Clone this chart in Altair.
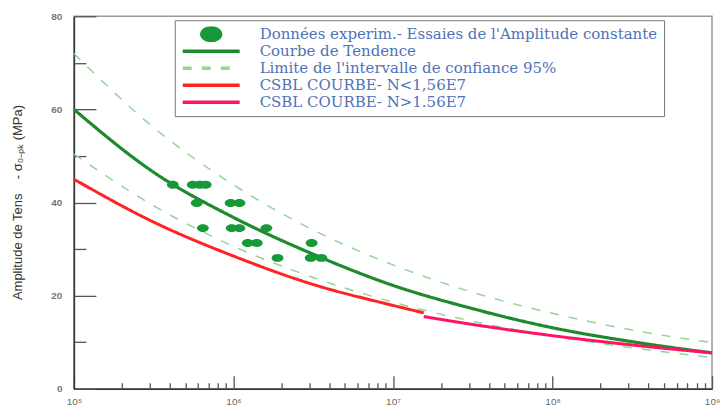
import altair as alt
import pandas as pd

# ---------------- data ----------------
SERIES = [
    "Données experim.- Essaies de l'Amplitude constante",
    "Courbe de Tendence",
    "Limite de l'intervalle de confiance 95%",
    "CSBL COURBE- N<1,56E7",
    "CSBL COURBE- N>1.56E7",
]

N_GRID = [1e5, 3.16e5, 1e6, 3.16e6, 1e7, 3.16e7, 1e8, 3.16e8, 1e9]
TREND_S = [60.0, 46.5, 36.8, 28.9, 22.2, 17.2, 13.1, 10.1, 7.7]
UPPER_S = [72.0, 56.1, 43.8, 34.1, 26.6, 20.7, 16.2, 12.6, 9.9]
LOWER_S = [50.4, 39.3, 30.6, 23.9, 18.6, 14.5, 11.3, 8.8, 6.7]

RED_N = [1e5, 3.16e5, 1e6, 3.16e6, 1e7, 1.56e7]
RED_S = [45.0, 35.8, 28.5, 22.4, 17.9, 16.3]

PINK_N = [1.56e7, 3.16e7, 1e8, 3.16e8, 1e9]
PINK_S = [15.5, 13.8, 11.4, 9.4, 7.7]

PTS_N = [4.17e5, 5.56e5, 6.15e5, 6.7e5, 5.89e5, 9.6e5, 1.09e6, 6.43e5, 9.75e5,
         1.09e6, 1.61e6, 1.23e6, 1.40e6, 3.09e6, 1.89e6, 3.05e6, 3.56e6]
PTS_S = [43.8, 43.8, 43.8, 43.8, 39.9, 39.9, 39.9, 34.5, 34.5,
         34.5, 34.5, 31.3, 31.3, 31.3, 28.1, 28.1, 28.1]

X_MAJOR = [1e5, 1e6, 1e7, 1e8, 1e9]
X_MINOR = [m * 10 ** e for e in range(5, 9) for m in range(2, 10)]
Y_MAJOR = [0, 20, 40, 60, 80]
Y_MINOR = [10, 30, 50, 70]

# ---------------- styles ----------------
COLORS = ["#17993a", "#1e8a2e", "#96d496", "#ff2323", "#ff1464"]
DOT = "M-0.33,0A0.33,0.22,0,1,0,0.33,0A0.33,0.22,0,1,0,-0.33,0Z"
SHAPES = [DOT, "stroke", "stroke", "stroke", "stroke"]
DASHES = [[1, 0], [1, 0], [9, 10], [1, 0], [1, 0]]
TICK_COLOR = "#555555"

# ---------------- tables ----------------
rows = []
for n, s in zip(N_GRID, TREND_S):
    rows.append({"N": n, "S": s, "serie": SERIES[1], "part": "t", "sw": 3.2})
for n, s in zip(N_GRID, UPPER_S):
    rows.append({"N": n, "S": s, "serie": SERIES[2], "part": "u", "sw": 1.5})
for n, s in zip(N_GRID, LOWER_S):
    rows.append({"N": n, "S": s, "serie": SERIES[2], "part": "l", "sw": 1.5})
for n, s in zip(RED_N, RED_S):
    rows.append({"N": n, "S": s, "serie": SERIES[3], "part": "r", "sw": 3.0})
for n, s in zip(PINK_N, PINK_S):
    rows.append({"N": n, "S": s, "serie": SERIES[4], "part": "k", "sw": 3.0})
lines_df = pd.DataFrame(rows)

pts_df = pd.DataFrame({"N": PTS_N, "S": PTS_S, "serie": SERIES[0]})

# ---------------- scales / axes / legend ----------------
x_scale = alt.Scale(type="log", domain=[1e5, 1e9], nice=False)
y_scale = alt.Scale(domain=[0, 80], nice=False)
color_scale = alt.Scale(domain=SERIES, range=COLORS)
shape_scale = alt.Scale(domain=SERIES, range=SHAPES)
dash_scale = alt.Scale(domain=SERIES, range=DASHES)

x_axis = alt.Axis(
    orient="bottom",
    values=X_MAJOR,
    labelExpr="'10' + ['⁰','¹','²','³','⁴','⁵','⁶','⁷','⁸','⁹'][round(log(datum.value)/LN10)]",
    title=None,
    ticks=False,
    tickSize=0,
    grid=False,
    domainColor="#333333",
    domainWidth=1.5,
    labelFont="Liberation Sans",
    labelFontSize=10,
    labelColor="#666666",
    labelPadding=8,
    labelFlush=False,
    labelOverlap=False,
)

y_axis = alt.Axis(
    orient="left",
    values=Y_MAJOR,
    title="Amplitude de Tens\u00a0\u00a0\u00a0\u00a0- σ₀₋ₚₖ (MPa)",
    titleFont="Liberation Sans Narrow, Liberation Sans",
    titleFontSize=13,
    titleFontWeight="normal",
    titleColor="#333333",
    titleX=-49,
    titleY=186,
    titleBaseline="bottom",
    ticks=False,
    tickSize=0,
    grid=False,
    domainColor="#333333",
    domainWidth=1.5,
    labelFont="Liberation Sans",
    labelFontSize=10,
    labelFontWeight="bold",
    labelColor="#777777",
    labelPadding=12,
    labelOverlap=False,
)


def tick_axis(orient, values, length):
    # axis drawn inside the plot: shifted inward by its own tick length
    return alt.Axis(
        orient=orient, values=values, offset=-length, tickSize=length,
        tickColor=TICK_COLOR, tickWidth=1.3, domain=False, labels=False,
        grid=False, title=None,
    )


legend = alt.Legend(
    title=None,
    orient="none",
    legendX=101,
    legendY=4,
    padding=6,
    strokeColor="#777777",
    fillColor="white",
    labelFont="DejaVu Serif",
    labelFontSize=15,
    labelColor="#4f72b8",
    labelOffset=18,
    labelLimit=800,
    labelExpr="datum.index == 0 ? datum.label + '\u00a0\u00a0\u00a0\u00a0\u00a0' : datum.label",
    symbolSize=3249,
    symbolStrokeWidth=3.5,
    clipHeight=16,
    rowPadding=1,
)

lines = alt.Chart(lines_df).mark_line(interpolate="monotone").encode(
    x=alt.X("N:Q", scale=x_scale, axis=x_axis),
    y=alt.Y("S:Q", scale=y_scale, axis=y_axis),
    color=alt.Color("serie:N", scale=color_scale, legend=legend),
    strokeDash=alt.StrokeDash("serie:N", scale=dash_scale, legend=legend),
    strokeWidth=alt.StrokeWidth("sw:Q", scale=None, legend=None),
    detail="part:N",
)

points = alt.Chart(pts_df).mark_point(filled=True, size=1300, opacity=1).encode(
    x=alt.X("N:Q", scale=x_scale, axis=None),
    y=alt.Y("S:Q", scale=y_scale, axis=None),
    color=alt.Color("serie:N", scale=color_scale, legend=legend),
    shape=alt.Shape("serie:N", scale=shape_scale, legend=legend),
)

major_ticks = alt.Chart(pts_df).mark_point(opacity=0).encode(
    x=alt.X("N:Q", scale=x_scale, axis=tick_axis("bottom", X_MAJOR, 13)),
    y=alt.Y("S:Q", scale=y_scale, axis=tick_axis("left", Y_MAJOR, 22)),
)

minor_ticks = alt.Chart(pts_df).mark_point(opacity=0).encode(
    x=alt.X("N:Q", scale=x_scale, axis=tick_axis("bottom", X_MINOR, 6)),
    y=alt.Y("S:Q", scale=y_scale, axis=tick_axis("left", Y_MINOR, 12)),
)

chart = alt.layer(lines, points, major_ticks, minor_ticks).resolve_axis(
    x="independent", y="independent"
).properties(
    width=639,
    height=373,
    padding={"left": 66, "top": 8, "right": 8, "bottom": 18},
    autosize=alt.AutoSizeParams(type="none"),
    background="white",
).configure_view(stroke="#999999", strokeWidth=1.5)

chart.save("out.html", embed_options={"renderer": "svg", "actions": False})
